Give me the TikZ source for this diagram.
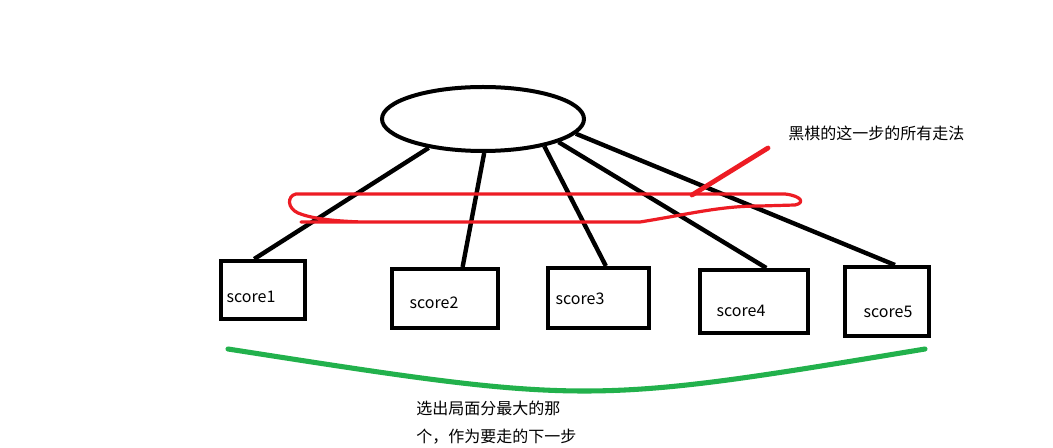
\documentclass[tikz,border=0pt]{standalone}
\usepackage{fontspec}
\setmainfont{Noto Sans CJK SC}
\usetikzlibrary{shapes.geometric,calc}
\definecolor{paintred}{HTML}{ED1C24}
\definecolor{paintgreen}{HTML}{22B14C}
\begin{document}
\begin{tikzpicture}[x=0.75pt,y=-0.75pt,
  scorebox/.style={draw=black,line width=3pt,inner sep=0pt,rectangle},
  edge/.style={draw=black,line width=3.3pt},
  lbl/.style={font=\fontsize{12}{14}\selectfont,inner sep=0pt,text=black},
  note/.style={font=\fontsize{12}{21}\selectfont,inner sep=0pt,align=left,text=black}]
\useasboundingbox[fill=white] (0,0) rectangle (1053,448);
% root ellipse
\node[ellipse,draw=black,line width=3pt,inner sep=0pt,minimum width=151.5pt,minimum height=48pt] (root) at (483,119) {};
% boxes
\node[scorebox,minimum width=63pt,minimum height=43.5pt] (b1) at (263,290) {};
\node[scorebox,minimum width=79.5pt,minimum height=44.25pt] (b2) at (445,298.5) {};
\node[scorebox,minimum width=75.75pt,minimum height=45pt] (b3) at (598.5,298) {};
\node[scorebox,minimum width=81pt,minimum height=47.25pt] (b4) at (754,301.5) {};
\node[scorebox,minimum width=63pt,minimum height=51.75pt] (b5) at (887,301.5) {};
% labels
\node[lbl] (t1) at (251,297) {score1};
\node[lbl] (t2) at (434,303) {score2};
\node[lbl] (t3) at (580,299) {score3};
\node[lbl] (t4) at (741,311) {score4};
\node[lbl] (t5) at (888,312) {score5};
% connectors
\draw[edge] (root.-152) -- ($(b1.north west)!0.40!(b1.north east)$);
\draw[edge] (root.-88) -- ($(b2.north west)!0.66!(b2.north east)$);
\draw[edge] (root.-24) -- ($(b3.north west)!0.57!(b3.north east)$);
\draw[edge] (root.-17) -- ($(b4.north west)!0.61!(b4.north east)$);
\draw[edge] (root.-9) -- ($(b5.north west)!0.59!(b5.north east)$);
% red loop
\draw[paintred,line width=2.4pt,line join=round,line cap=round]
  (301,222) -- (640,222) .. controls (690,214) and (720,206) .. (760,206)
  -- (795,205) .. controls (805,203) and (802,196) .. (785,194)
  -- (296,194) .. controls (287,196) and (287,208) .. (298,213)
  .. controls (310,218) and (330,221) .. (362,222);
\coordinate (ptrA) at (768,148);
\coordinate (ptrB) at (692,195);
\draw[paintred,line width=3.6pt,line cap=round] (ptrA) -- (ptrB);
\node[lbl,anchor=west] (redtxt) at (788,133) {黑棋的这一步的所有走法};
% green curve
\coordinate (gL) at (228,349);
\coordinate (gR) at (925,349);
\draw[paintgreen,line width=3.8pt,line cap=round] (gL) .. controls (587,405) .. (gR);
\node[note,anchor=west] (greentxt) at (416,422.5) {选出局面分最大的那\\个，作为要走的下一步};
\end{tikzpicture}
\end{document}
